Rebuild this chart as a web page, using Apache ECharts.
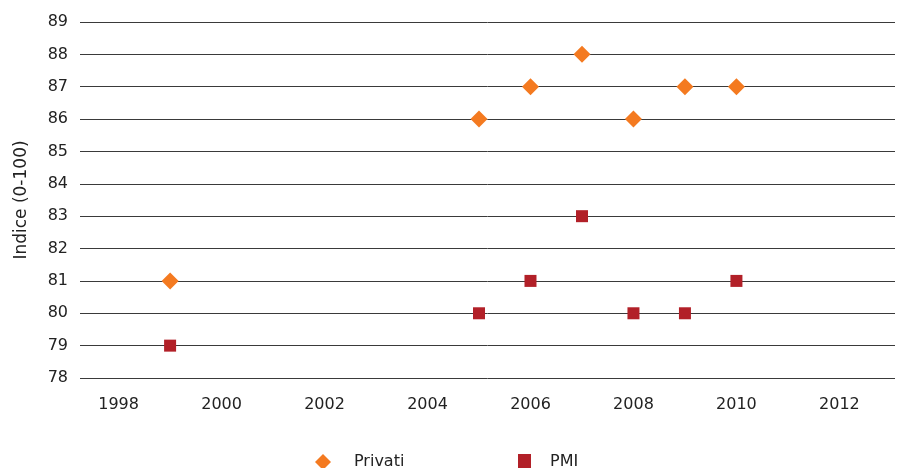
<!DOCTYPE html>
<html><head><meta charset="utf-8">
<script src="https://cdn.jsdelivr.net/npm/echarts@6/dist/echarts.min.js"></script>
<style>html,body{margin:0;padding:0;background:#fff}#c{width:898px;height:468px}</style>
</head><body><div id="c"></div>
<script>
const years = [1999, 2005, 2006, 2007, 2008, 2009, 2010];
const privati = [81, 86, 87, 88, 86, 87, 87];
const pmi = [79, 80, 81, 83, 80, 80, 81];
const xTicks = [1998, 2000, 2002, 2004, 2006, 2008, 2010, 2012];
const yTitle = 'Indice (0-100)';
const seriesNames = ['Privati', 'PMI'];

const FONT = 'DejaVu Sans';
const chart = echarts.init(document.getElementById('c'));
chart.setOption({
  animation: false,
  grid: {left: 80, right: 3, top: 22, bottom: 90, containLabel: false},
  xAxis: {
    type: 'value', min: 1997.25, max: 2013.08,
    axisLine: {show: false}, axisTick: {show: false}, splitLine: {show: false},
    axisLabel: {customValues: xTicks, formatter: v => String(v), margin: 19,
      color: '#222', fontSize: 16, fontFamily: FONT}
  },
  yAxis: {
    type: 'value', min: 78, max: 89, interval: 1,
    name: yTitle, nameLocation: 'middle', nameGap: 50, nameRotate: 90,
    nameTextStyle: {color: '#222', fontSize: 17, fontFamily: FONT},
    axisLine: {show: false}, axisTick: {show: false},
    splitLine: {lineStyle: {color: '#3a3a3a', width: 1}},
    axisLabel: {margin: 12, color: '#222', fontSize: 16, fontFamily: FONT}
  },
  legend: [
    {data: [seriesNames[0]], left: 310, top: 449, itemWidth: 16, itemHeight: 16,
     textStyle: {fontSize: 16, fontFamily: FONT, color: '#222', padding: [0, 0, 0, 18]}},
    {data: [seriesNames[1]], left: 513, top: 449, itemWidth: 13, itemHeight: 16,
     textStyle: {fontSize: 16, fontFamily: FONT, color: '#222', padding: [0, 0, 0, 14]}}
  ],
  series: [
    {name: seriesNames[0], type: 'scatter', symbol: 'diamond', symbolSize: 17,
     itemStyle: {color: '#F47A20', opacity: 1}, data: years.map((y, i) => [y, privati[i]])},
    {name: seriesNames[1], type: 'scatter', symbol: 'rect', symbolSize: 12,
     itemStyle: {color: '#B22028', opacity: 1}, data: years.map((y, i) => [y, pmi[i]])}
  ]
});
</script></body></html>
